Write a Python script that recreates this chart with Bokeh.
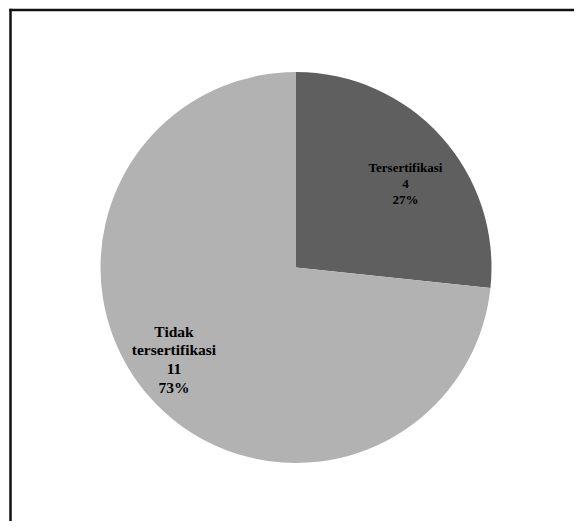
import math
from bokeh.plotting import figure
from bokeh.models import Range1d
from bokeh.core.properties import value
from bokeh.embed import file_html
from bokeh.resources import INLINE

# ---- data ----
categories = ["Tersertifikasi", "Tidak tersertifikasi"]
counts = [4, 11]
slice_colors = ["#5f5f5f", "#b2b2b2"]

# ---- layout / style ----
W, H = 574, 521
CX, CY, R = 295.5, 254.0, 195.5
label_offsets = [(109.5, 84.0), (-122.0, -91.7)]   # label block centre relative to pie centre
label_wrap = [False, True]
label_sizes = [13.0, 15.5]
line_heights = [16.3, 18.7]

p = figure(width=W, height=H, x_range=Range1d(0, W), y_range=Range1d(0, H),
           output_backend="svg", toolbar_location=None, min_border=0,
           x_axis_location=None, y_axis_location=None)
p.grid.visible = False
p.outline_line_color = None
p.background_fill_color = "white"
p.border_fill_color = "white"

total = sum(counts)
starts, ends = [], []
cum = 0
for c in counts:
    end = math.pi / 2 - cum / total * 2 * math.pi
    start = end - c / total * 2 * math.pi
    starts.append(start)
    ends.append(end)
    cum += c

p.wedge(x=[CX] * len(counts), y=[CY] * len(counts), radius=R,
        start_angle=starts, end_angle=ends,
        fill_color=slice_colors, line_color=None)

# labels
for i, (cat, c) in enumerate(zip(categories, counts)):
    pct = round(c / total * 100)
    name_lines = cat.split(" ", 1) if label_wrap[i] else [cat]
    lines = name_lines + [str(c), f"{pct}%"]
    n = len(lines)
    bx = CX + label_offsets[i][0]
    by = CY + label_offsets[i][1]
    lh = line_heights[i]
    ys = [by + (n - 1) / 2 * lh - k * lh for k in range(n)]
    p.text(x=[bx] * n, y=ys, text=lines, text_align="center", text_baseline="middle",
           text_font=value("Times New Roman"), text_font_style="bold",
           text_font_size=f"{label_sizes[i]}px", text_color="black")

# chart-area frame (top and left edges visible, rest runs off the page)
p.line(x=[9, W + 10], y=[511.5, 511.5], line_color="#111111", line_width=2.5)
p.line(x=[10, 10], y=[512.7, -10], line_color="#111111", line_width=2.5)

open("out.html", "w").write(file_html(p, INLINE))
